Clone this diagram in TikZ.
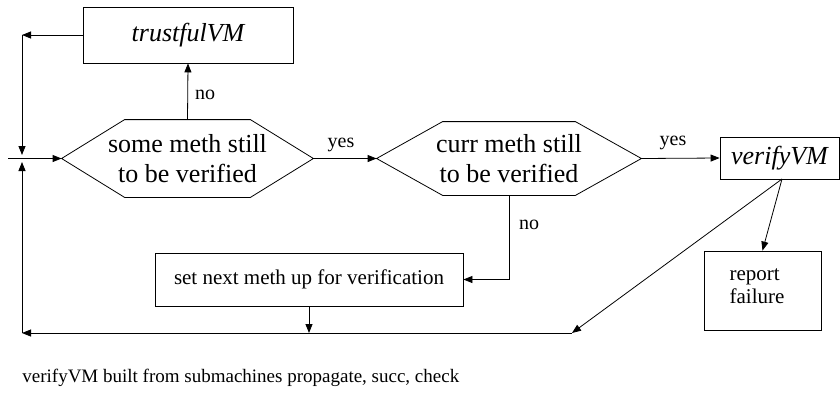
\documentclass[tikz,border=0pt]{standalone}
\usepackage{fontspec}
\setmainfont{Liberation Serif}
\usetikzlibrary{arrows.meta}
\begin{document}
\begin{tikzpicture}[x=1pt,y=-1pt,
  every path/.style={line width=0.8pt},
  arr/.style={-{Triangle[length=9pt,width=7pt]}},
  box/.style={draw,inner sep=0pt},
  lbl/.style={font=\fontsize{20}{22}\selectfont,inner sep=0pt},
  hex/.style={inner sep=0pt,align=center,font=\fontsize{26}{30}\selectfont}]
\useasboundingbox (0,0) rectangle (840,397);
% boxes
\node (trust) [box,minimum width=210pt,minimum height=56pt,font=\fontsize{26}{30}\selectfont\itshape] at (188,35) {trustfulVM};
\node (verify) [box,minimum width=119pt,minimum height=42pt,font=\fontsize{26}{30}\selectfont\itshape] at (779.5,158) {verifyVM};
\node (setnext) [box,minimum width=308pt,minimum height=53pt,font=\fontsize{21}{24}\selectfont] at (309,279.5) {set next meth up for verification};
\node (report) [box,minimum width=117pt,minimum height=79pt] at (762.5,290.5) {};
\node (reporttext) [align=left,inner sep=0pt,font=\fontsize{21}{23}\selectfont] at (757,286) {report\\failure};
% hexagons
\node (h1) [hex,minimum width=251pt,minimum height=77pt] at (187.5,158.5) {some meth still\\to be verified};
\draw ([xshift=0pt]h1.west) -- ([xshift=63pt]h1.north west) -- ([xshift=-63pt]h1.north east) -- (h1.east) -- ([xshift=-63pt]h1.south east) -- ([xshift=63pt]h1.south west) -- cycle;
\node (h2) [hex,minimum width=264pt,minimum height=73pt] at (509,158.5) {curr meth still\\to be verified};
\draw (h2.west) -- ([xshift=66pt]h2.north west) -- ([xshift=-66pt]h2.north east) -- (h2.east) -- ([xshift=-66pt]h2.south east) -- ([xshift=66pt]h2.south west) -- cycle;
% coordinates
\coordinate (c1) at (22,35);
\coordinate (ja) at (22,155);
\coordinate (jb) at (22,162);
\coordinate (bl) at (22,333);
\coordinate (br) at (572,333);
\coordinate (in) at (8,158.5);
\coordinate (vs) at (782,179);
% connectors
\draw[arr] (trust.west) -- (c1);
\draw[arr] (c1) -- (ja);
\draw[arr] (bl) -- (jb);
\draw[arr] (br) -- (bl);
\draw[arr] (in) -- (h1.west);
\draw[arr] (h1.north) -- (trust.south);
\draw[arr] (h1.east) -- (h2.west);
\draw[arr] (h2.east) -- (verify.west);
\draw[arr] (h2.south) |- (setnext.east);
\draw[arr] (setnext.south) -- (setnext.south |- bl);
\draw[arr] (vs) -- (report.north);
\draw[arr] (vs) -- (br);
% labels
\node (lno1) [lbl] at (205,95) {no};
\node (lyes1) [lbl] at (341,145) {yes};
\node (lyes2) [lbl] at (673,143) {yes};
\node (lno2) [lbl] at (529,225) {no};
\node (caption) [anchor=west,inner sep=0pt,font=\fontsize{19}{22}\selectfont] at (22,378) {verifyVM built from submachines propagate, succ, check};
\end{tikzpicture}
\end{document}
